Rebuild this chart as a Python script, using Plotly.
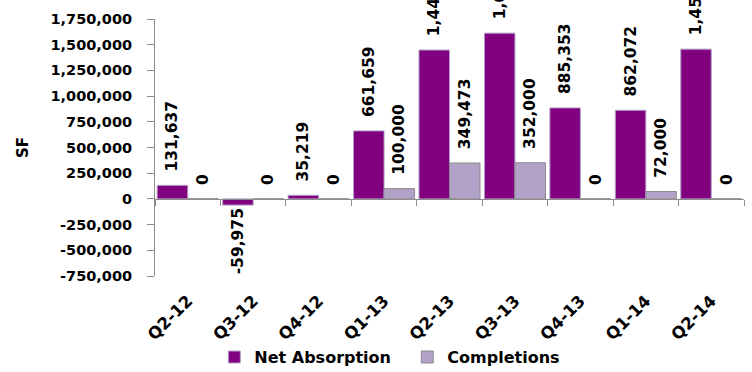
import plotly.graph_objects as go

categories = ["Q2-12", "Q3-12", "Q4-12", "Q1-13", "Q2-13", "Q3-13", "Q4-13", "Q1-14", "Q2-14"]
net_absorption = [131637, -59975, 35219, 661659, 1448260, 1612418, 885353, 862072, 1456876]
completions = [0, 0, 0, 100000, 349473, 352000, 0, 72000, 0]
y_tick_vals = [-750000, -500000, -250000, 0, 250000, 500000, 750000, 1000000, 1250000, 1500000, 1750000]

NBSP = "\u00a0"


def label(v):
    s = f"{v:,}"
    return NBSP * 2 + s if v >= 0 else s


def font(size):
    return dict(family="DejaVu Sans", size=size, color="black", weight="bold")


AXIS_GRAY = "#8c8c8c"

fig = go.Figure()
fig.add_trace(go.Bar(
    name="Net Absorption", x=categories, y=net_absorption,
    marker=dict(color="#800080", line=dict(color="#b3a2c7", width=1)),
    text=[label(v) for v in net_absorption], textposition="outside",
    textangle=-90, cliponaxis=False, constraintext="none", textfont=font(15.5),
))
fig.add_trace(go.Bar(
    name="Completions", x=categories, y=completions,
    marker=dict(color="#b3a2c7", line=dict(color="#8c8c8c", width=1)),
    text=[label(v) for v in completions], textposition="outside",
    textangle=-90, cliponaxis=False, constraintext="none", textfont=font(15.5),
))
# invisible helper trace for the zero-line category axis
fig.add_trace(go.Scatter(
    x=categories, y=[0] * len(categories), xaxis="x2", mode="markers",
    marker=dict(opacity=0), showlegend=False, hoverinfo="skip",
))

fig.update_layout(
    width=752, height=372,
    margin=dict(l=155, r=8, t=19, b=96, autoexpand=False),
    paper_bgcolor="white", plot_bgcolor="white",
    barmode="group", bargap=0.067, bargroupgap=0,
    font=font(14),
    showlegend=True,
    legend=dict(
        orientation="h", xref="container", yref="container",
        x=0.285, xanchor="left", y=0.04, yanchor="middle",
        font=font(16), bgcolor="rgba(0,0,0,0)", entrywidth=148,
    ),
    xaxis=dict(
        type="category", range=[-0.5, 8.5], showline=False, ticks="",
        tickangle=-45, tickfont=font(16.5), showgrid=False, zeroline=False,
        ticklabelstandoff=11, automargin=False,
    ),
    xaxis2=dict(
        type="category", overlaying="x", anchor="free", position=0.3,
        range=[-0.5, 8.5], showline=True, linecolor=AXIS_GRAY, linewidth=1,
        ticks="outside", ticklen=6, tickcolor=AXIS_GRAY, tickson="boundaries",
        showticklabels=False, showgrid=False, zeroline=False, automargin=False,
    ),
    yaxis=dict(
        range=[-750000, 1750000], tickvals=y_tick_vals,
        ticktext=[f"{v:,}" for v in y_tick_vals],
        showline=True, linecolor=AXIS_GRAY, linewidth=1,
        ticks="outside", ticklen=7, tickcolor=AXIS_GRAY,
        showgrid=False, zeroline=False, tickfont=font(14.5),
        ticklabelstandoff=12, automargin=False,
        title=dict(text="SF", font=font(15), standoff=18),
    ),
)

fig.write_html("out.html")
